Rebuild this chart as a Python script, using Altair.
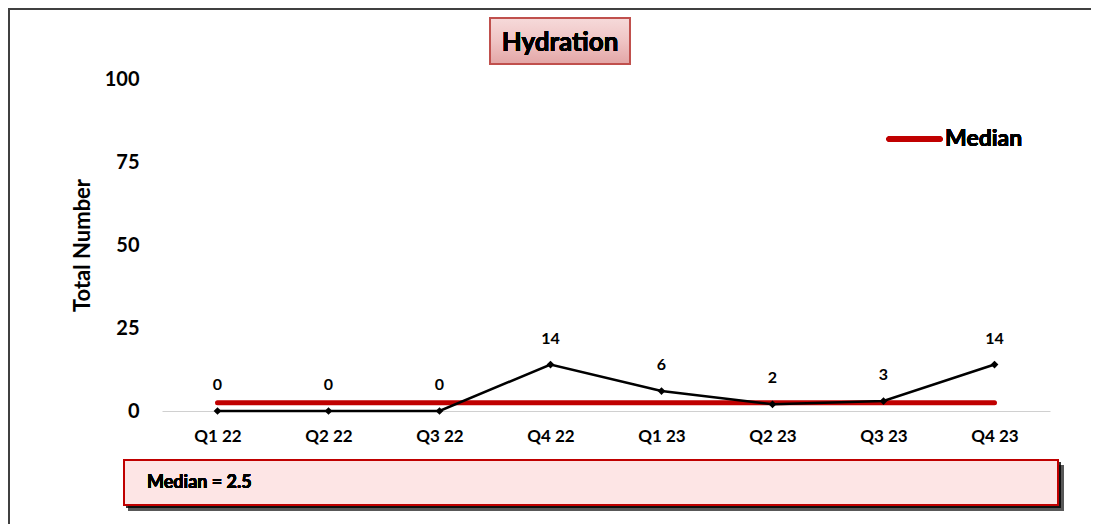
import altair as alt
import pandas as pd

quarters = ["Q1 22", "Q2 22", "Q3 22", "Q4 22", "Q1 23", "Q2 23", "Q3 23", "Q4 23"]
totals = [0, 0, 0, 14, 6, 2, 3, 14]
median_value = 2.5
y_ticks = [0, 25, 50, 75, 100]

FONT = "Lato"
W, H = 888, 332
PL, PT, PR, PB = 154, 71, 41, 113

df = pd.DataFrame({"quarter": quarters, "total": totals})
df["median"] = median_value

xenc = alt.X("quarter:N", sort=quarters,
             scale=alt.Scale(type="point", padding=0.5),
             axis=alt.Axis(title=None, labelAngle=0, labelFont=FONT, labelFontSize=17,
                           labelFontWeight="bold", labelColor="#000000", labelPadding=17,
                           domainColor="#d0d0d0", domainWidth=1, ticks=False, grid=False))
yscale = alt.Scale(domain=[0, 100], nice=False)
yenc = alt.Y("total:Q", scale=yscale,
             axis=alt.Axis(title="Total Number", values=y_ticks, labelFont=FONT,
                           labelFontSize=20, labelFontWeight="bold", labelColor="#000000",
                           labelPadding=23, domain=False, ticks=False, grid=False,
                           titleFont=FONT, titleFontSize=22, titleFontWeight="bold",
                           titleColor="#000000", titleAngle=270, titleX=-80, titleY=H / 2,
                           titleAlign="center", titleBaseline="middle"))

base = alt.Chart(df)

# decorative outer border
border = base.mark_rect(fill="white", fillOpacity=0, stroke="#404040", strokeWidth=2).encode(
    x=alt.value(-153), x2=alt.value(W + PR + 20), y=alt.value(-70), y2=alt.value(H + PB + 20)
)

# title box
title_box = base.mark_rect(
    stroke="#c0504d", strokeWidth=2,
    color=alt.Gradient(gradient="linear", x1=0, x2=0, y1=0, y2=1,
                       stops=[alt.GradientStop(offset=0, color="#f6dada"),
                              alt.GradientStop(offset=0.5, color="#efc4c4"),
                              alt.GradientStop(offset=1, color="#e3a6a6")])
).encode(x=alt.value(328), x2=alt.value(468), y=alt.value(-61), y2=alt.value(-15))
title_text = base.mark_text(text="Hydration", font=FONT, fontSize=26, fontWeight="bold",
                            color="#000000", align="center", baseline="middle").encode(
    x=alt.value(398), y=alt.value(-36))

# median line
median_line = base.mark_line(color="#c00000", strokeWidth=5, strokeCap="round").encode(
    x=xenc, y=alt.Y("median:Q", scale=yscale))

# data line
data_line = base.mark_line(color="#000000", strokeWidth=2.5).encode(x=xenc, y=yenc)
points = base.mark_point(shape="diamond", filled=True, color="#000000", size=60, opacity=1).encode(
    x=xenc, y=alt.Y("total:Q", scale=yscale))
labels = base.mark_text(font=FONT, fontSize=16, fontWeight="bold", color="#000000",
                        dy=-26, baseline="middle").encode(
    x=xenc, y=alt.Y("total:Q", scale=yscale), text="total:Q")

# legend
leg_line = base.mark_rule(color="#c00000", strokeWidth=5, strokeCap="round").encode(
    x=alt.value(727), x2=alt.value(778), y=alt.value(60))
leg_text = base.mark_text(text="Median", font=FONT, fontSize=23, fontWeight="bold",
                          color="#000000", align="left", baseline="middle").encode(
    x=alt.value(783), y=alt.value(60))

# median box with shadow
shadow1 = base.mark_rect(fill="#000000", opacity=0.12).encode(
    x=alt.value(-34), x2=alt.value(902), y=alt.value(386), y2=alt.value(432))
shadow2 = base.mark_rect(fill="#000000", opacity=0.18).encode(
    x=alt.value(-36), x2=alt.value(899), y=alt.value(383), y2=alt.value(429))
med_box = base.mark_rect(fill="#fde5e5", stroke="#c00000", strokeWidth=2).encode(
    x=alt.value(-38), x2=alt.value(896), y=alt.value(381), y2=alt.value(426))
med_text = base.mark_text(text="Median = 2.5", font=FONT, fontSize=18, fontWeight="bold",
                          color="#000000", align="left", baseline="middle").encode(
    x=alt.value(-15), y=alt.value(404))

chart = alt.layer(
    border, title_box, title_text, median_line, data_line, points, labels,
    leg_line, leg_text, shadow1, shadow2, med_box, med_text
).properties(
    width=W, height=H,
    autosize=alt.AutoSizeParams(type="none"),
    padding={"left": PL, "top": PT, "right": PR, "bottom": PB},
    background="white",
).configure_view(stroke=None)

chart.save("out.html", embed_options={"renderer": "svg", "actions": False})
